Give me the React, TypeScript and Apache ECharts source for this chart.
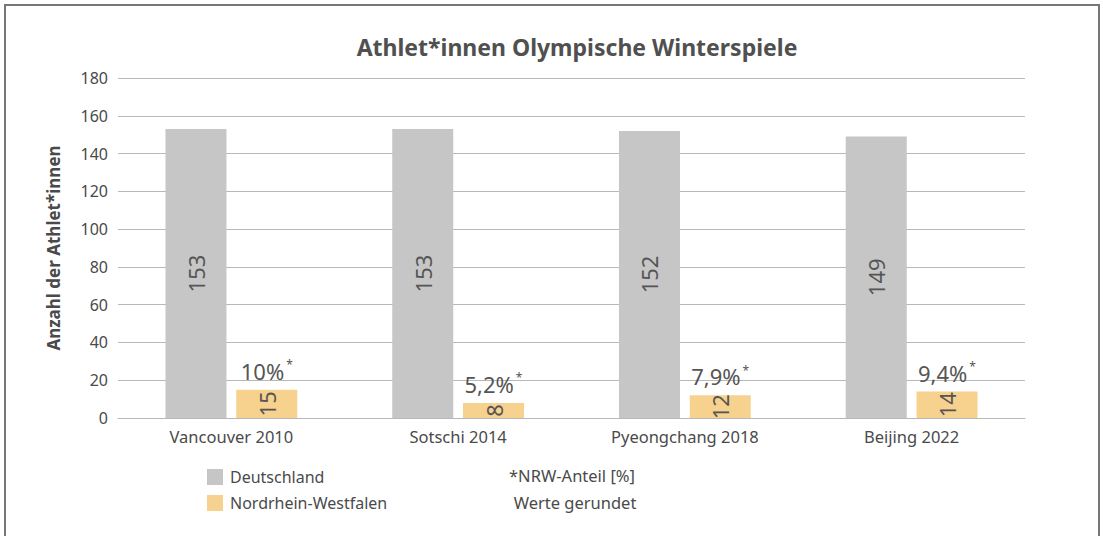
import React, { useEffect, useRef } from "react";
import * as echarts from "echarts";

const categories = ["Vancouver 2010", "Sotschi 2014", "Pyeongchang 2018", "Beijing 2022"];
const deutschland = [153, 153, 152, 149];
const nrw = [15, 8, 12, 14];
const nrwShare = ["10%", "5,2%", "7,9%", "9,4%"];
const zeroTop = [0, 0, 0, 0];
const yTicks = { min: 0, max: 180, interval: 20 };

const FONT = "'Noto Sans', 'Open Sans', sans-serif";
const TXT = "#4a4a4a";

export default function App() {
  const ref = useRef<HTMLDivElement>(null);
  useEffect(() => {
    const chart = echarts.init(ref.current!, null, { renderer: "svg" });
    chart.setOption({
      animation: false,
      backgroundColor: "#ffffff",
      textStyle: { fontFamily: FONT },
      title: {
        text: "Athlet*innen Olympische Winterspiele",
        left: 572,
        textAlign: "center",
        top: 30,
        textStyle: { fontFamily: FONT, fontSize: 23, fontWeight: "bold", color: "#505050" },
      },
      legend: {
        data: ["Deutschland", "Nordrhein-Westfalen"],
        orient: "vertical",
        left: 202,
        top: 464,
        itemWidth: 16,
        itemHeight: 16,
        itemGap: 10,
        icon: "rect",
        textStyle: { fontFamily: FONT, fontSize: 16, color: TXT, padding: [0, 0, 0, 2] },
      },
      grid: { left: 118, right: 78, top: 78, bottom: 118, containLabel: false },
      xAxis: {
        type: "category",
        data: categories,
        axisLine: { lineStyle: { color: "#b8b8b8", width: 1 } },
        axisTick: { show: false },
        axisLabel: { fontFamily: FONT, fontSize: 16.5, color: TXT, margin: 10 },
      },
      yAxis: {
        type: "value",
        min: yTicks.min,
        max: yTicks.max,
        interval: yTicks.interval,
        name: "Anzahl der Athlet*innen",
        nameLocation: "middle",
        nameGap: 56,
        nameTextStyle: { fontFamily: FONT, fontSize: 17, fontWeight: "bold", color: TXT },
        axisLine: { show: false },
        axisTick: { show: false },
        axisLabel: { fontFamily: FONT, fontSize: 16, color: TXT, margin: 10 },
        splitLine: { lineStyle: { color: "#b8b8b8", width: 1 } },
      },
      series: [
        {
          name: "Deutschland",
          type: "bar",
          data: deutschland,
          barWidth: 61,
          barGap: "16%",
          itemStyle: { color: "#c6c6c6" },
          label: {
            show: true,
            position: "inside",
            rotate: 90,
            fontFamily: FONT,
            fontSize: 22,
            color: "#555555",
          },
        },
        {
          name: "Nordrhein-Westfalen",
          type: "bar",
          stack: "nrw",
          data: nrw,
          barWidth: 61,
          barGap: "16%",
          itemStyle: { color: "#f6d28e" },
          label: {
            show: true,
            position: "inside",
            rotate: 90,
            fontFamily: FONT,
            fontSize: 22,
            color: "#555555",
          },
        },
        {
          name: "NRW-Anteil",
          type: "bar",
          stack: "nrw",
          data: zeroTop,
          barWidth: 61,
          barGap: "16%",
          itemStyle: { color: "transparent" },
          label: {
            show: true,
            position: "top",
            distance: 7,
            formatter: (p: any) => `{a|${nrwShare[p.dataIndex]}}{s|*}`,
            rich: {
              a: { fontFamily: FONT, fontSize: 22, color: "#555555" },
              s: { fontFamily: FONT, fontSize: 12, color: "#555555", verticalAlign: "top", padding: [0, 0, 12, 2] },
            },
          },
        },
      ],
      graphic: [
        {
          type: "rect",
          shape: { x: 5, y: 5, width: 1094, height: 545 },
          style: { fill: "none", stroke: "#777777", lineWidth: 2 },
          silent: true,
        },
        {
          type: "text",
          x: 572,
          y: 467,
          style: { text: "*NRW-Anteil [%]", fontFamily: FONT, fontSize: 16.5, fill: TXT, textAlign: "center" },
        },
        {
          type: "text",
          x: 575,
          y: 494,
          style: { text: "Werte gerundet", fontFamily: FONT, fontSize: 16.5, fill: TXT, textAlign: "center" },
        },
      ],
    });
    return () => chart.dispose();
  }, []);
  return <div ref={ref} style={{ position: "absolute", left: 0, top: 0, width: 1103, height: 536 }} />;
}
